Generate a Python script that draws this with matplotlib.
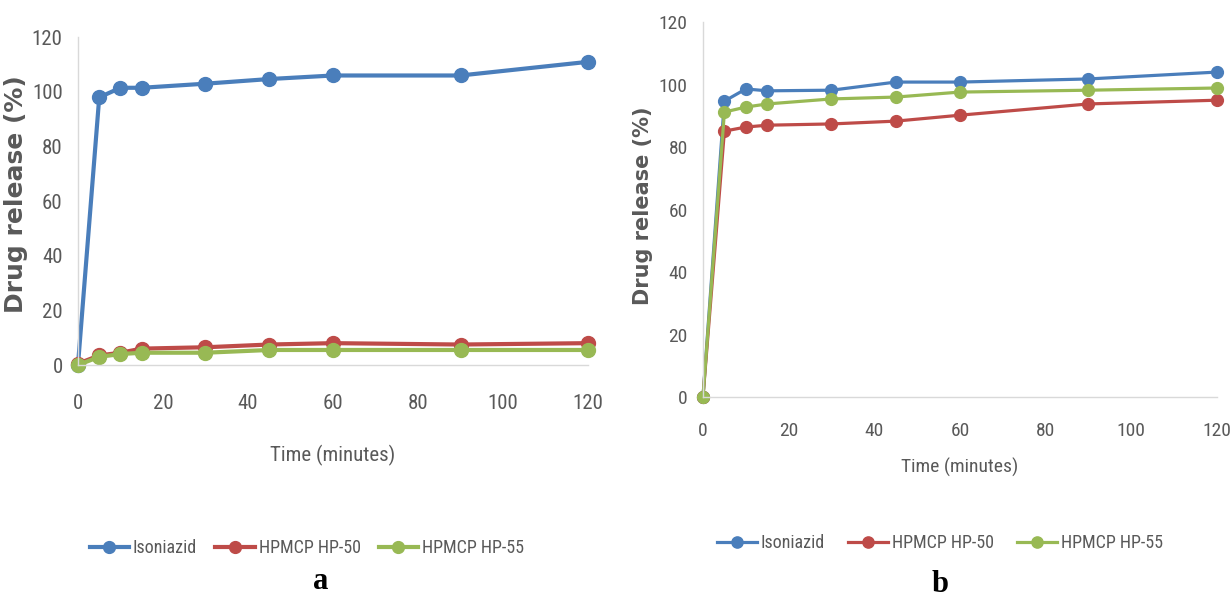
import matplotlib
matplotlib.use("Agg")
from matplotlib import pyplot as plt

# sampling times (minutes)
time = [0, 5, 10, 15, 30, 45, 60, 90, 120]

# panel a - drug release (%)
iso_a = [0, 98, 101.5, 101.5, 103, 104.7, 106, 106, 111]
hp50_a = [0.5, 3.5, 4.5, 6, 6.5, 7.5, 8, 7.5, 8]
hp55_a = [0, 3, 4, 4.5, 4.5, 5.5, 5.5, 5.5, 5.5]

# panel b - drug release (%)
iso_b = [0, 94.7, 98.6, 98, 98.2, 100.8, 100.8, 101.8, 104]
hp50_b = [0, 85.1, 86.4, 87, 87.4, 88.3, 90.2, 93.8, 95]
hp55_b = [0, 91.2, 92.8, 93.8, 95.4, 96, 97.6, 98.2, 98.9]

names = ["Isoniazid", "HPMCP HP-50", "HPMCP HP-55"]
colors = ["#4a7ebb", "#be4b48", "#98b954"]
ticks_x = [0, 20, 40, 60, 80, 100, 120]
ticks_y = [0, 20, 40, 60, 80, 100, 120]

# condensed look like the Excel Calibri text, first one that exists wins
narrow = ["Liberation Sans Narrow", "Roboto Condensed", "Open Sans Condensed",
          "Noto Sans Condensed", "Liberation Sans"]
grey = "#595959"

fig = plt.figure(figsize=(12.32, 5.97), dpi=100)
ax_a = fig.add_axes([0.0633, 0.3886, 0.414, 0.549])
ax_b = fig.add_axes([0.5706, 0.335, 0.4172, 0.628])


def style(ax, tsize, lsize, ysize, xpad, ypad):
    ax.set_xlim(0, 120)
    ax.set_ylim(0, 120)
    ax.set_xticks(ticks_x)
    ax.set_yticks(ticks_y)
    for s in ["top", "right"]:
        ax.spines[s].set_visible(False)
    for s in ["left", "bottom"]:
        ax.spines[s].set_color("#d9d9d9")
        ax.spines[s].set_linewidth(1)
    ax.tick_params(axis="x", length=0, pad=xpad, colors=grey)
    ax.tick_params(axis="y", length=0, pad=ypad, colors=grey)
    for lab in ax.get_xticklabels() + ax.get_yticklabels():
        lab.set_family(narrow)
        lab.set_fontsize(tsize)
        lab.set_color(grey)
    ax.set_xlabel("Time (minutes)", family=narrow, fontsize=lsize, color=grey)
    ax.set_ylabel("Drug release (%)", family="DejaVu Sans", fontweight="bold",
                  fontsize=ysize, color=grey)


series_a = [iso_a, hp50_a, hp55_a]
series_b = [iso_b, hp50_b, hp55_b]

lines_a = []
for vals, c, n in zip(series_a, colors, names):
    ln, = ax_a.plot(time, vals, color=c, lw=3, marker="o", ms=10, label=n,
                    clip_on=False)
    lines_a.append(ln)
lines_b = []
for vals, c, n in zip(series_b, colors, names):
    ln, = ax_b.plot(time, vals, color=c, lw=2.3, marker="o", ms=8.5, label=n,
                    clip_on=False)
    lines_b.append(ln)

style(ax_a, 15, 15, 18, 21, 11)
style(ax_b, 14, 14, 15, 18, 11)
ax_a.xaxis.set_label_coords(0.5, -0.244)
ax_b.xaxis.set_label_coords(0.5, -0.163)
ax_a.yaxis.set_label_coords(-0.098, 0.52)
ax_b.yaxis.set_label_coords(-0.097, 0.509)

leg_a = fig.legend(handles=lines_a, loc="center", bbox_to_anchor=(0.249, 0.082),
                   ncol=3, frameon=False, handlelength=2.2, handletextpad=0.2,
                   columnspacing=1.0, markerscale=0.85,
                   prop={"family": narrow, "size": 13})
leg_b = fig.legend(handles=lines_b, loc="center", bbox_to_anchor=(0.763, 0.0905),
                   ncol=3, frameon=False, handlelength=2.2, handletextpad=0.2,
                   columnspacing=1.3, markerscale=0.95,
                   prop={"family": narrow, "size": 13})
for leg in [leg_a, leg_b]:
    for t in leg.get_texts():
        t.set_color(grey)

fig.text(0.26, 0.014, "a", family="Liberation Serif", fontweight="bold",
         fontsize=22, ha="center", va="baseline")
fig.text(0.763, 0.008, "b", family="Liberation Serif", fontweight="bold",
         fontsize=22, ha="center", va="baseline")

fig.savefig("out.png", dpi=100)
